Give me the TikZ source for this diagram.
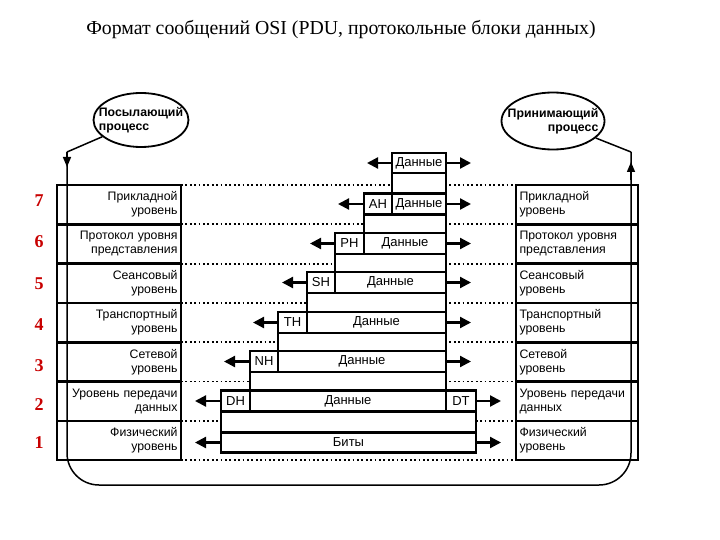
\documentclass[tikz,border=0pt]{standalone}
\usepackage{fontspec}
\setmainfont{Liberation Serif}
\newfontfamily\arialfont{Liberation Sans}
\usetikzlibrary{shapes.geometric}
\usetikzlibrary{arrows.meta}
\definecolor{numred}{RGB}{200,0,0}
\tikzset{
	layerleft/.style={rectangle,draw=black,line width=2.6pt,minimum height=39.3pt,text width=117pt,inner xsep=3.5pt,align=right,font=\arialfont\fontsize{12.3}{14}\selectfont},
	layerright/.style={rectangle,draw=black,line width=2.6pt,minimum height=39.3pt,text width=115pt,inner xsep=3.5pt,align=left,font=\arialfont\fontsize{12.3}{14}\selectfont},
	pdustyle/.style={rectangle,draw=black,fill=white,line width=2.2pt,minimum height=21pt,inner sep=0pt,font=\arialfont\fontsize{13}{13}\selectfont},
	stemstyle/.style={rectangle,draw=black,fill=white,line width=2.2pt,inner sep=0pt},
	procstyle/.style={ellipse,draw=black,line width=1.8pt,inner xsep=-12pt,inner ysep=0pt,font=\arialfont\bfseries\fontsize{12.3}{14.5}\selectfont},
	pathstyle/.style={line width=1.5pt},
	procarr/.style={line width=1.5pt,-{Triangle[length=10pt,width=8pt]}},
	dotstyle/.style={line width=1.8pt,dash pattern=on 1.8pt off 2.6pt},
	arrstyle/.style={line width=2.2pt,-{Triangle[length=11pt,width=11pt]}},
	numstyle/.style={text=numred,font=\bfseries\fontsize{18}{18}\selectfont}
}
\begin{document}
\begin{tikzpicture}[x=1pt,y=-1pt]
	\useasboundingbox (0,0) rectangle (720,540);
	\node (title) at (341,30) {\fontsize{19.8}{22}\selectfont Формат сообщений OSI (PDU, протокольные блоки данных)};
	% processes
	\node[procstyle,minimum width=95pt,minimum height=54pt,align=left] (send) at (141,120) {Посылающий\\процесс};
	\node[procstyle,minimum width=103pt,minimum height=57pt,align=right] (recv) at (553,121) {Принимающий\\процесс};
	% dotted layer borders
	\foreach \y in {185,224.3,263.6,302.9,342.2,381.5,420.8,460.1}
		\draw[dotstyle] (181,\y) -- (516,\y);
	% layer stacks
	\node[layerleft] (l7) at (119,204.65) {Прикладной\\уровень};
	\node[layerleft] (l6) at (119,243.95) {Протокол уровня\\представления};
	\node[layerleft] (l5) at (119,283.25) {Сеансовый\\уровень};
	\node[layerleft] (l4) at (119,322.55) {Транспортный\\уровень};
	\node[layerleft] (l3) at (119,361.85) {Сетевой\\уровень};
	\node[layerleft] (l2) at (119,401.15) {Уровень передачи\\данных};
	\node[layerleft] (l1) at (119,440.45) {Физический\\уровень};
	\node[layerright] (r7) at (577,204.65) {Прикладной\\уровень};
	\node[layerright] (r6) at (577,243.95) {Протокол уровня\\представления};
	\node[layerright] (r5) at (577,283.25) {Сеансовый\\уровень};
	\node[layerright] (r4) at (577,322.55) {Транспортный\\уровень};
	\node[layerright] (r3) at (577,361.85) {Сетевой\\уровень};
	\node[layerright] (r2) at (577,401.15) {Уровень передачи\\данных};
	\node[layerright] (r1) at (577,440.45) {Физический\\уровень};
	% layer numbers
	\node[numstyle] (n7) at (39,201) {7};
	\node[numstyle] (n6) at (39,242) {6};
	\node[numstyle] (n5) at (39,284) {5};
	\node[numstyle] (n4) at (39,325) {4};
	\node[numstyle] (n3) at (39,366) {3};
	\node[numstyle] (n2) at (39,405) {2};
	\node[numstyle] (n1) at (39,443) {1};
	% process path
	\coordinate (sbend) at (67,152);
	\coordinate (sarrow) at (67,167);
	\coordinate (scorner) at (67,485);
	\coordinate (rcorner) at (631,485);
	\coordinate (rbend) at (631,152);
	\coordinate (rarrow) at (631,162);
	\coordinate (rtail) at (631,180);
	\draw[pathstyle] (send) -- (sbend);
	\draw[pathstyle,rounded corners=32pt] (sbend) -- (scorner) -- (rcorner) -- (rbend);
	\draw[pathstyle] (rbend) -- (recv);
	\draw[procarr] (sbend) -- (sarrow);
	\draw[procarr] (rtail) -- (rarrow);
	% stems
	\node[stemstyle,minimum width=54pt,minimum height=20pt] (s7) at (419,183) {};
	\node[stemstyle,minimum width=82pt,minimum height=19pt] (s6) at (405,224) {};
	\node[stemstyle,minimum width=111pt,minimum height=19pt] (s5) at (390.5,263) {};
	\node[stemstyle,minimum width=139pt,minimum height=19pt] (s4) at (376.5,302.5) {};
	\node[stemstyle,minimum width=168pt,minimum height=19pt] (s3) at (362,342) {};
	\node[stemstyle,minimum width=196pt,minimum height=19pt] (s2) at (348,381) {};
	\node[stemstyle,minimum width=255pt,minimum height=21pt] (s1) at (348.5,422.5) {};
	% data units
	\node[pdustyle,minimum width=54pt,minimum height=20pt] (d7) at (419,163) {Данные};
	\node[pdustyle,minimum width=28pt] (ah) at (378,204) {AH};
	\node[pdustyle,minimum width=54pt] (d6) at (419,204) {Данные};
	\node[pdustyle,minimum width=29pt] (ph) at (349.5,243.5) {PH};
	\node[pdustyle,minimum width=82pt] (d5) at (405,243.5) {Данные};
	\node[pdustyle,minimum width=28pt] (sh) at (321,282.5) {SH};
	\node[pdustyle,minimum width=111pt] (d4) at (390.5,282.5) {Данные};
	\node[pdustyle,minimum width=29pt] (th) at (292.5,322.5) {TH};
	\node[pdustyle,minimum width=139pt] (d3) at (376.5,322.5) {Данные};
	\node[pdustyle,minimum width=28pt] (nh) at (264,361.5) {NH};
	\node[pdustyle,minimum width=168pt] (d2) at (362,361.5) {Данные};
	\node[pdustyle,minimum width=29pt] (dh) at (235.5,401) {DH};
	\node[pdustyle,minimum width=196pt] (d1) at (348,401) {Данные};
	\node[pdustyle,minimum width=30pt] (dt) at (461,401) {DT};
	\node[pdustyle,minimum width=255pt,minimum height=20pt] (bits) at (348.5,442.5) {Биты};
	% arrows
	\coordinate (d7l) at (367,163);
	\coordinate (d7r) at (471,163);
	\coordinate (ahl) at (338,204);
	\coordinate (d6r) at (471,204);
	\coordinate (phl) at (310,243.5);
	\coordinate (d5r) at (471,243.5);
	\coordinate (shl) at (282,282.5);
	\coordinate (d4r) at (471,282.5);
	\coordinate (thl) at (253,322.5);
	\coordinate (d3r) at (471,322.5);
	\coordinate (nhl) at (224,361.5);
	\coordinate (d2r) at (471,361.5);
	\coordinate (dhl) at (195,401);
	\coordinate (dtr) at (501,401);
	\coordinate (bitsl) at (195,442.5);
	\coordinate (bitsr) at (501,442.5);
	\draw[arrstyle] (d7) -- (d7l);
	\draw[arrstyle] (d7) -- (d7r);
	\draw[arrstyle] (ah) -- (ahl);
	\draw[arrstyle] (d6) -- (d6r);
	\draw[arrstyle] (ph) -- (phl);
	\draw[arrstyle] (d5) -- (d5r);
	\draw[arrstyle] (sh) -- (shl);
	\draw[arrstyle] (d4) -- (d4r);
	\draw[arrstyle] (th) -- (thl);
	\draw[arrstyle] (d3) -- (d3r);
	\draw[arrstyle] (nh) -- (nhl);
	\draw[arrstyle] (d2) -- (d2r);
	\draw[arrstyle] (dh) -- (dhl);
	\draw[arrstyle] (dt) -- (dtr);
	\draw[arrstyle] (bits) -- (bitsl);
	\draw[arrstyle] (bits) -- (bitsr);
\end{tikzpicture}
\end{document}
